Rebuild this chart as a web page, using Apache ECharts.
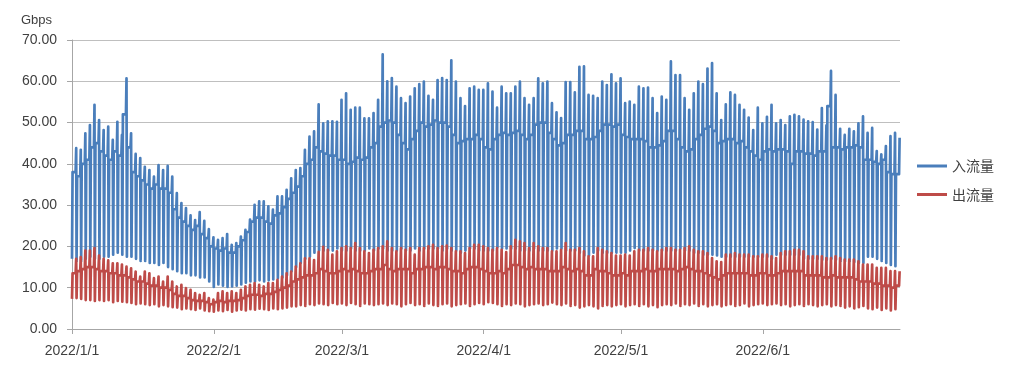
<!DOCTYPE html>
<html>
<head>
<meta charset="utf-8">
<script src="https://cdn.jsdelivr.net/npm/echarts@6/dist/echarts.min.js"></script>
<style>
html,body{margin:0;padding:0;background:#fff;}
#chart{width:1014px;height:369px;}
</style>
</head>
<body>
<div id="chart"></div>
<script>
// Daily readings, 2022/1/1 .. 2022/6/30 (181 days), Gbps
const startYear = 2022;
const seriesNames = ['入流量', '出流量'];
const yTicks = [0, 10, 20, 30, 40, 50, 60, 70];

// 入流量: evening peak, daytime level, night low
const inPeak = [
43.8,43.4,47.4,49.4,54.3,50.6,48.2,49.0,45.8,50.2,
47.0,60.7,47.4,42.4,41.4,39.3,38.5,36.9,39.7,38.5,
39.5,36.9,32.9,30.5,29.3,27.5,26.4,28.3,26.2,24.2,
22.2,21.6,22.0,23.0,20.4,20.8,22.4,24.0,26.5,30.1,
30.9,30.9,29.7,28.9,32.1,32.1,33.7,36.5,38.5,39.0,
43.4,46.6,47.9,54.4,49.8,50.3,50.3,50.2,55.5,57.1,
53.1,53.6,53.6,51.0,51.0,52.3,55.5,66.5,60.0,60.8,
58.7,55.9,54.7,56.3,58.3,59.3,59.9,56.5,55.5,60.3,
60.8,60.3,65.1,59.9,55.9,54.0,58.3,58.7,57.9,57.9,
59.5,57.5,53.6,58.7,57.1,57.1,58.7,59.9,55.9,54.3,
55.9,60.7,59.5,59.9,54.7,52.5,51.1,59.8,59.8,57.3,
63.5,63.6,56.7,56.5,55.9,59.9,59.1,61.7,59.5,60.7,
54.7,55.1,54.3,58.7,58.3,58.5,55.9,52.3,56.3,55.5,
64.8,61.5,61.5,55.9,53.1,57.1,59.9,59.3,63.1,64.4,
57.1,50.6,54.4,57.3,56.7,54.3,53.1,51.2,48.2,53.6,
49.8,51.4,54.3,49.8,50.6,49.4,51.5,51.9,51.5,50.7,
50.3,50.1,48.3,53.5,49.3,62.5,56.7,48.5,47.0,48.5,
47.9,49.8,51.5,47.5,48.7,43.1,42.3,44.3,46.7,47.5,46.3
];
const inMid = [
38,37,40,41,44,45,43,42,41,43,
42,52,44,38,37,36,35,34,35,34,
34,33,29,27,26,25,24,25,23,22,
20,19.5,19,19.5,18.5,18.5,20,21.5,23.5,26,
27,27,26,25.5,27.5,28,29.5,31.5,33,34.5,
37,40,41,44,43,42.5,42,42,41,41,
40,40.5,41.5,41,41.5,44,45,49,50,50.5,
50,47,45,43.5,46,48,50,49,49.5,50.5,
50,50,49,47,45,45.5,46,46,47,46,
44,43.5,46,47,47.5,47,47.5,48,47,46,
47,49.5,50,50,47.5,46,44.5,45,47,47,
48,48,46,46,46.5,48,49.5,49.5,49,49.5,
47,46.5,46,46,46,45.5,44,44,44.5,45.5,
48,48,46,44,43,43.5,46,47,48.5,49,
48,45,45.5,46,46,45,45.5,44,43,42,
41,43,43.5,43,43.5,43.5,43,40,43,43,
42.5,42.5,42,43,43,54,44,44,43.5,44,
44,44.5,44,41,41,40.5,40,41,38,37.5,37.5
];
const inLow = [
17.0,16.5,16.5,17.0,17.5,17.0,17.0,17.5,17.5,18.0,
18.5,18.0,17.5,17.5,17.0,16.5,16.5,16.0,16.0,15.5,
16.0,15.0,14.5,14.0,13.5,13.5,13.0,13.0,12.5,12.5,
11.5,10.2,10.8,10.5,10.2,10.3,10.5,10.8,11.2,11.5,
11.5,11.8,11.5,11.8,12.0,12.3,12.5,13.0,14.0,15.0,
16.0,17.0,17.5,18.5,19.0,19.0,19.0,19.0,19.5,19.0,
19.0,19.5,19.0,19.0,19.0,19.5,19.0,19.5,19.5,19.0,
19.0,19.0,19.5,19.0,19.0,19.5,19.0,19.5,19.5,19.5,
19.5,19.0,19.5,19.0,19.0,18.5,19.0,19.5,19.5,19.0,
19.0,19.0,19.0,19.8,19.5,19.5,19.5,19.5,19.0,19.0,
19.0,19.5,19.0,19.0,19.0,19.0,19.5,19.5,19.0,19.0,
19.0,18.5,17.8,17.8,18.5,19.0,18.5,18.5,18.5,18.5,
18.5,18.5,19.0,19.6,19.0,19.0,19.0,19.0,19.0,19.0,
19.0,19.0,19.0,19.5,19.0,19.0,18.5,18.5,18.0,18.0,
18.0,17.8,17.5,17.5,17.5,17.5,17.5,17.5,17.5,17.5,
17.5,17.5,17.5,17.0,18.0,18.0,18.0,18.0,18.0,18.0,
17.0,17.0,17.0,17.0,16.8,16.8,17.0,16.8,16.5,16.5,
16.5,16.2,16.0,16.0,17.5,17.5,17.0,16.5,16.0,15.5,15.2
];

// 出流量: evening peak, daytime level, night low
const outPeak = [
17.0,17.4,19.0,19.0,19.6,17.8,17.0,16.6,15.9,15.9,
15.6,15.1,14.7,13.9,12.7,13.9,13.5,12.3,12.7,11.5,
12.7,11.5,10.3,10.7,9.9,9.5,8.7,8.3,8.7,7.5,
7.1,8.7,9.1,8.7,9.1,8.7,9.5,10.3,10.7,11.1,
10.7,10.3,11.1,11.1,11.9,12.7,13.5,13.9,15.1,15.9,
17.1,17.1,16.7,18.7,19.9,19.2,18.0,18.8,19.6,20.0,
19.6,20.8,19.6,18.8,18.4,19.2,19.6,20.0,21.2,19.6,
18.8,19.6,19.2,19.6,18.0,19.6,19.6,20.0,20.4,19.6,
20.0,20.2,19.6,18.8,18.8,18.4,19.6,20.4,20.4,20.0,
19.6,19.2,19.6,19.2,18.6,20.0,21.6,21.2,20.8,19.6,
20.8,20.0,19.6,19.6,18.8,18.8,19.2,20.8,19.2,19.2,
19.6,18.8,17.6,17.6,19.6,19.2,18.8,18.4,17.8,17.8,
18.0,17.8,18.8,19.2,19.2,19.6,19.2,18.8,19.2,19.6,
19.6,19.2,19.2,19.6,20.0,19.2,18.8,18.8,18.4,17.2,
16.4,16.2,18.0,18.0,18.4,18.0,18.0,18.0,17.6,17.6,
18.0,18.0,17.6,17.2,18.4,18.8,18.8,19.2,19.2,18.8,
17.6,17.6,17.6,17.6,17.2,17.2,17.6,17.2,16.8,16.8,
16.8,16.4,15.6,15.6,15.6,14.8,14.8,14.8,14.0,14.0,14.0
];
const outMid = [
13.5,14.0,14.5,15.0,15.0,14.5,14.0,14.0,13.5,13.5,
13.0,13.0,12.5,12.0,11.5,11.5,11.0,10.5,10.5,10.0,
10.0,9.5,8.5,8.0,8.0,7.5,7.0,6.8,6.8,6.5,
6.0,6.5,6.8,6.5,6.8,6.8,7.0,7.5,8.0,8.3,
8.3,8.0,8.5,8.5,9.0,9.5,10.0,10.5,11.5,12.0,
12.5,13.0,13.0,13.5,14.5,14.0,13.5,13.5,14.0,14.5,
14.0,14.5,14.0,13.5,13.5,14.0,14.5,14.5,15.5,14.5,
14.0,14.5,14.5,14.5,13.5,14.5,14.5,15.0,15.0,14.5,
15.0,15.0,14.5,14.0,14.0,13.5,14.5,15.0,15.0,14.5,
14.0,13.5,13.5,14.0,13.5,14.5,15.5,15.5,15.0,14.5,
15.0,14.5,14.5,14.5,14.0,14.0,14.0,15.0,14.5,14.0,
14.5,14.0,13.0,13.0,14.5,14.0,14.0,13.5,13.0,13.0,
13.5,13.0,14.0,14.0,14.0,14.5,14.0,14.0,14.5,14.5,
14.5,14.5,14.0,14.5,15.0,14.5,14.0,14.0,13.5,13.0,
12.5,12.0,13.0,13.5,13.5,13.5,13.5,13.5,13.0,13.0,
13.5,13.5,13.0,13.0,13.5,14.0,14.0,14.0,14.0,14.0,
13.0,13.0,13.0,13.0,12.5,12.5,13.0,12.5,12.5,12.5,
12.5,12.0,11.5,11.5,11.5,11.0,11.0,10.5,10.5,10.0,10.5
];
const outLow = [
7.3,7.5,7.3,7.0,7.0,6.8,7.0,6.8,7.0,6.5,
6.8,6.6,6.5,6.3,6.0,6.2,6.0,5.8,6.0,5.5,
5.8,5.5,5.3,5.2,4.8,5.0,4.8,4.6,5.0,4.5,
4.3,4.2,4.5,4.3,4.6,4.2,4.5,4.7,4.5,4.8,
4.7,4.9,4.8,4.6,5.0,4.8,5.0,5.2,5.5,5.5,
5.8,5.6,6.0,5.8,6.2,6.0,5.8,6.3,6.0,6.2,
5.8,6.3,6.0,5.6,6.2,6.0,5.8,6.0,6.2,5.8,
6.2,6.0,5.5,6.0,6.3,5.8,6.0,5.6,6.2,5.8,
5.6,6.0,6.2,5.5,5.8,6.0,6.2,5.6,6.0,6.3,
6.0,6.5,6.3,6.0,5.6,6.0,5.8,6.2,6.0,5.5,
5.8,6.0,6.2,5.8,6.0,6.4,6.0,5.8,6.2,5.6,
5.8,5.2,5.5,5.8,5.5,5.0,5.6,5.8,5.5,5.8,
6.0,5.5,5.8,6.0,5.6,6.0,5.5,5.8,5.3,5.8,
6.0,5.8,6.2,5.6,6.0,5.8,6.2,5.6,6.0,5.5,
5.8,6.0,5.5,5.8,6.0,5.6,5.8,6.2,5.5,5.8,
6.0,6.2,5.8,6.0,6.2,5.8,6.0,5.5,5.8,6.0,
5.6,6.0,5.8,5.5,5.8,6.0,5.5,5.8,5.6,5.2,
5.5,5.0,5.3,5.6,5.0,4.8,5.2,4.6,5.0,4.5,4.8
];

// Daily profile: night low, day level (held through the day), evening peak
function buildSeries(low, mid, peak) {
  const out = [];
  for (let d = 0; d < peak.length; d++) {
    out.push([new Date(startYear, 0, 1 + d, 0).getTime(), low[d]]);
    out.push([new Date(startYear, 0, 1 + d, 3).getTime(), mid[d]]);
    out.push([new Date(startYear, 0, 1 + d, 19).getTime(), mid[d]]);
    out.push([new Date(startYear, 0, 1 + d, 22).getTime(), peak[d]]);
  }
  return out;
}

const chart = echarts.init(document.getElementById('chart'), null, {renderer: 'canvas'});
const labelFont = 'Liberation Sans';
chart.setOption({
  animation: false,
  backgroundColor: '#ffffff',
  grid: {left: 72, right: 114, top: 40, bottom: 40, containLabel: false},
  legend: {
    data: seriesNames,
    orient: 'vertical',
    left: 912,
    top: 154,
    padding: 5,
    icon: 'rect',
    itemWidth: 30,
    itemHeight: 3,
    itemGap: 14.5,
    textStyle: {fontFamily: 'Noto Sans CJK SC', fontSize: 14, color: '#404040', lineHeight: 14}
  },
  xAxis: {
    type: 'time',
    min: new Date(startYear, 0, 1).getTime(),
    max: new Date(startYear, 6, 1).getTime(),
    splitNumber: 6,
    minInterval: 28 * 86400000,
    maxInterval: 31 * 86400000,
    axisLine: {show: true, lineStyle: {color: '#A6A6A6', width: 1}},
    axisTick: {show: true, length: 5, lineStyle: {color: '#A6A6A6'}},
    splitLine: {show: false},
    axisLabel: {
      margin: 15,
      fontFamily: labelFont,
      fontSize: 14,
      color: '#404040',
      hideOverlap: false,
      formatter: function (v) {
        const d = new Date(v);
        if (d.getMonth() === 6) return '';
        return d.getFullYear() + '/' + (d.getMonth() + 1) + '/' + d.getDate();
      }
    }
  },
  yAxis: {
    type: 'value',
    min: yTicks[0],
    max: yTicks[yTicks.length - 1],
    interval: yTicks[1] - yTicks[0],
    name: 'Gbps',
    nameLocation: 'end',
    nameGap: 13,
    nameTextStyle: {fontFamily: labelFont, fontSize: 13, color: '#404040', align: 'right', padding: [0, 20, 0, 0]},
    axisLine: {show: true, lineStyle: {color: '#A6A6A6', width: 1}},
    axisTick: {show: true, length: 5, lineStyle: {color: '#A6A6A6'}},
    splitLine: {show: true, lineStyle: {color: '#BFBFBF', width: 1}},
    axisLabel: {
      margin: 15,
      fontFamily: labelFont,
      fontSize: 14,
      color: '#404040',
      formatter: function (v) { return v.toFixed(2); }
    }
  },
  series: [
    {
      name: seriesNames[0],
      type: 'line',
      data: buildSeries(inLow, inMid, inPeak),
      symbol: 'none',
      showSymbol: false,
      sampling: null,
      color: '#4A7EBB',
      lineStyle: {color: '#4A7EBB', width: 2.7, join: 'round'},
      z: 2
    },
    {
      name: seriesNames[1],
      type: 'line',
      data: buildSeries(outLow, outMid, outPeak),
      symbol: 'none',
      showSymbol: false,
      sampling: null,
      color: '#BE4B48',
      lineStyle: {color: '#BE4B48', width: 2.7, join: 'round'},
      z: 3
    }
  ]
});
</script>
</body>
</html>
